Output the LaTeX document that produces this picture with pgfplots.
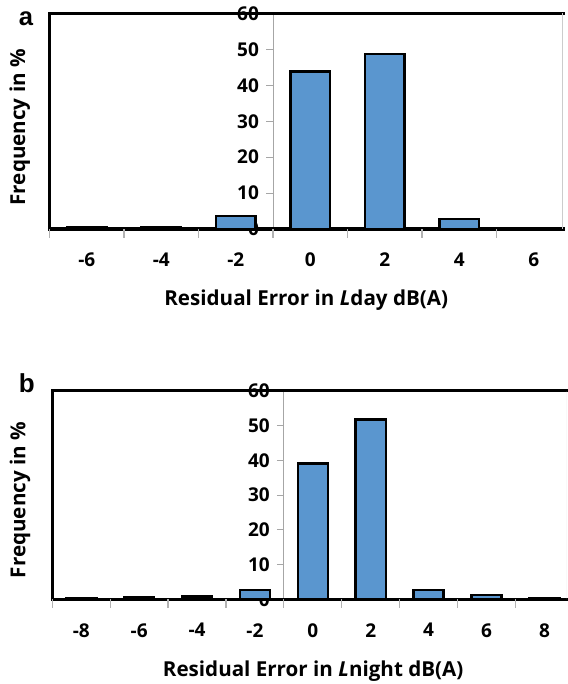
\documentclass[border=0pt]{standalone}
\usepackage{fontspec}
\setmainfont{Open Sans}
\newfontfamily\letterfont{Liberation Sans}
\usepackage{pgfplots}
\pgfplotsset{compat=1.18}
\definecolor{barblue}{RGB}{90,150,207}
\newcommand{\tT}{\fontsize{9.5}{11}\selectfont\bfseries}
\newcommand{\tL}{\fontsize{10.3}{12}\selectfont\bfseries}

\pgfplotsset{
  frame/.style={
    anchor=south west, scale only axis, ymin=0, ymax=60, ytick=\empty,
    axis x line=box, axis y line=left,
    axis line style={-, line width=1.6pt, black, line cap=rect},
    xtick pos=left, tick align=outside,
    major tick length=0pt,
    tick label style={font=\tT},
    xticklabel style={yshift=-8.5pt},
    extra x tick style={major tick length=4.3pt, tick style={draw=gray!60, line width=0.6pt}},
    label style={font=\tL},
    xlabel style={at={(axis description cs:0.5,0)}, anchor=base, yshift=-38.5pt},
  },
  yax/.style={
    anchor=south west, scale only axis, width=20pt,
    xmin=0, xmax=1, ymin=0, ymax=60,
    axis x line=none, axis y line=left,
    y axis line style={-, draw=gray!70, line width=0.5pt},
    ytick={0,10,...,60}, xtick=\empty,
    tick align=outside, major tick length=3.5pt,
    ytick style={draw=gray!70, line width=0.5pt},
    yticklabel style={font=\tT},
    /pgf/number format/assume math mode=true,
  },
  bars/.style={ybar, fill=barblue, draw=black, line width=1.2pt},
}

\begin{document}
\begin{tikzpicture}
\useasboundingbox (0,0) rectangle (283.5pt,342pt);

% ---------- panel a ----------
\begin{axis}[yax, at={(136.5pt,227.5pt)}, height=107.75pt]
\addplot[draw=none] coordinates {(0,0)};
\end{axis}
\begin{axis}[frame, at={(24.75pt,227.5pt)}, width=256.75pt, height=107.75pt,
  xmin=-7, xmax=6.785,
  xtick={-6,-4,-2,0,2,4,6}, xticklabels={-6,-4,-2,0,2,4,6},
  extra x ticks={-7,-5,-3,-1,1,3,5}, extra x tick labels={},
  xlabel={Residual Error in \textit{L}day dB(A)},
  ylabel={Frequency in \%},
  ylabel style={at={(axis description cs:-0.058,0.472)}, anchor=center}]
\addplot[bars, bar width=1.05] coordinates {
  (-6,0.4) (-4,0.4) (-2,3.6) (0,43.8) (2,48.7) (4,2.8) (6,0.1)};
\draw[gray!40, line width=0.5pt] (rel axis cs:1,0) -- (rel axis cs:1,1);
\end{axis}
\node[anchor=base west, font=\letterfont\fontsize{12.8}{15}\selectfont\bfseries] at (5.85pt,329pt) {a};

% ---------- panel b ----------
\begin{axis}[yax, at={(141.95pt,42.35pt)}, height=104.3pt]
\addplot[draw=none] coordinates {(0,0)};
\end{axis}
\begin{axis}[frame, at={(26.15pt,42.35pt)}, width=256.85pt, height=104.3pt,
  xmin=-9, xmax=8.745,
  xtick={-8,-6,-4,-2,0,2,4,6,8}, xticklabels={-8,-6,-4,-2,0,2,4,6,8},
  extra x ticks={-9,-7,-5,-3,-1,1,3,5,7}, extra x tick labels={},
  xlabel={Residual Error in \textit{L}night dB(A)},
  xlabel style={xshift=2pt},
  ylabel={Frequency in \%},
  ylabel style={at={(axis description cs:-0.063,0.476)}, anchor=center}]
\addplot[bars, bar width=1.04] coordinates {
  (-8,0.2) (-6,0.5) (-4,0.8) (-2,2.6) (0,39.1) (2,51.7) (4,2.6) (6,1.3) (8,0.3)};
\draw[gray!40, line width=0.5pt] (rel axis cs:1,0) -- (rel axis cs:1,1);
\end{axis}
\node[anchor=base west, font=\letterfont\fontsize{13}{15}\selectfont\bfseries] at (5.85pt,145.5pt) {b};
\end{tikzpicture}
\end{document}
